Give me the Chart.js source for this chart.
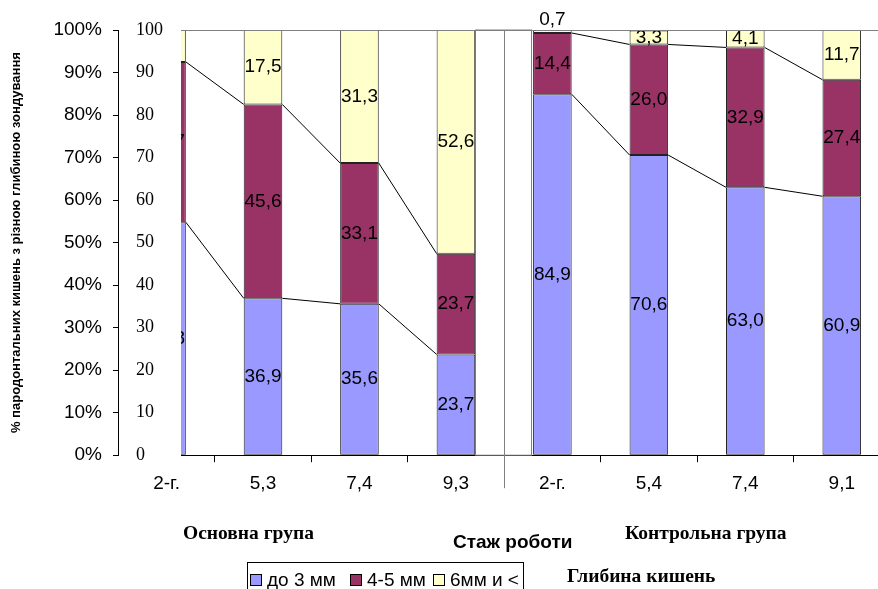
<!DOCTYPE html>
<html>
<head>
<meta charset="utf-8">
<script src="https://cdn.jsdelivr.net/npm/chart.js@4.4.1/dist/chart.umd.min.js"></script>
<style>
  html, body { margin: 0; padding: 0; overflow: hidden; background: #fff; }
  #wrap { position: relative; width: 890px; height: 589px; }
  .note { position: absolute; font: bold 19.5px "Liberation Serif", "Times New Roman", serif; line-height: 19.5px; white-space: nowrap; color: #000; }
  #xTitle { font-family: "Liberation Sans", Arial, sans-serif; font-size: 19px; line-height: 19px; }
  #legend { position: absolute; left: 247px; top: 562px; width: 277px; height: 36px; box-sizing: border-box;
            border: 1px solid #000; padding: 7px 0 0 2px; white-space: nowrap; overflow: hidden;
            font: 19px "Liberation Sans", Arial, sans-serif; line-height: 19px; color: #000; }
  #legend .item { display: inline-block; }
  #legend .box { display: inline-block; width: 10px; height: 10px; border: 1px solid #000; margin-right: 5px; }
</style>
</head>
<body>
<div id="wrap">
  <canvas id="chart"></canvas>
  <div class="note" style="left:183px; top:523px;">Основна група</div>
  <div class="note" id="xTitle" style="left:453px; top:532px;">Стаж роботи</div>
  <div class="note" style="left:625px; top:523px;">Контрольна група</div>
  <div class="note" style="left:567px; top:566px;">Глибина кишень</div>
  <div id="legend"></div>
</div>
<script>
// stazh roboty (years) for the main and the control group
const categories = ['2-г.', '5,3', '7,4', '9,3', '2-г.', '5,4', '7,4', '9,1'];
const groups = [0, 0, 0, 0, 1, 1, 1, 1];

const seriesNames = ['до 3 мм', '4-5 мм', '6мм и <'];
const seriesColors = ['#9999FF', '#993366', '#FFFFCC'];

// % of pockets by depth
const shallow = [54.8, 36.9, 35.6, 23.7, 84.9, 70.6, 63.0, 60.9];
const medium = [37.7, 45.6, 33.1, 23.7, 14.4, 26.0, 32.9, 27.4];
const deep = [7.5, 17.5, 31.3, 52.6, 0.7, 3.3, 4.1, 11.7];

const percentTicks = [0, 10, 20, 30, 40, 50, 60, 70, 80, 90, 100];

const sansFont = '"Liberation Sans", Arial, sans-serif';
const serifFont = '"Liberation Serif", "Times New Roman", serif';
Chart.defaults.font.family = sansFont;
Chart.defaults.color = '#000';

const fmt = v => v.toFixed(1).replace('.', ',');

// white separator between the two groups
const groupGap = {
  id: 'groupGap',
  beforeDatasetsDraw(chart) {
    const { ctx, chartArea, scales } = chart;
    const bars = chart.getDatasetMeta(0).data;
    ctx.save();
    ctx.strokeStyle = '#808080';
    ctx.lineWidth = 1;
    for (let i = 0; i < bars.length - 1; i++) {
      if (groups[i] === groups[i + 1]) continue;
      const left = Math.round(bars[i].x + bars[i].width / 2) + 0.5;
      const right = Math.round(bars[i + 1].x - bars[i + 1].width / 2) - 1.5;
      ctx.strokeRect(left, chartArea.top, right - left, chartArea.bottom - chartArea.top);
      const mid = Math.round(scales.x.getPixelForValue(i + 0.5)) + 0.5;
      ctx.beginPath();
      ctx.moveTo(mid, chartArea.top);
      ctx.lineTo(mid, chartArea.bottom + 33);
      ctx.stroke();
    }
    ctx.restore();
  }
};

// series lines joining the tops of the segments inside a group
const seriesLines = {
  id: 'seriesLines',
  afterDatasetsDraw(chart) {
    const ctx = chart.ctx;
    ctx.save();
    ctx.strokeStyle = '#000';
    ctx.lineWidth = 1;
    [0, 1].forEach(d => {
      const bars = chart.getDatasetMeta(d).data;
      for (let i = 0; i < bars.length - 1; i++) {
        if (groups[i] !== groups[i + 1]) continue;
        const a = bars[i];
        const b = bars[i + 1];
        ctx.beginPath();
        ctx.moveTo(a.x + a.width / 2, a.y);
        ctx.lineTo(b.x - b.width / 2, b.y);
        ctx.stroke();
      }
    });
    ctx.restore();
  }
};

const barLabels = {
  id: 'barLabels',
  afterDatasetsDraw(chart) {
    const { ctx, chartArea } = chart;
    ctx.save();
    ctx.beginPath();
    ctx.rect(chartArea.left, 0, chart.width - chartArea.left, chart.height);
    ctx.clip();
    ctx.font = '19px ' + sansFont;
    ctx.fillStyle = '#000';
    ctx.textAlign = 'center';
    ctx.textBaseline = 'middle';
    chart.data.datasets.forEach((ds, d) => {
      chart.getDatasetMeta(d).data.forEach((bar, i) => {
        const h = bar.base - bar.y;
        // too thin a segment: put its label above the bar
        const y = h < 10 ? bar.y - 10 : bar.y + h / 2;
        ctx.fillText(fmt(ds.data[i].y), bar.x, y);
      });
    });
    ctx.restore();
  }
};

const plotTopLine = {
  id: 'plotTopLine',
  afterDatasetsDraw(chart) {
    const { ctx, chartArea } = chart;
    ctx.save();
    ctx.strokeStyle = '#808080';
    ctx.lineWidth = 1;
    ctx.beginPath();
    ctx.moveTo(chartArea.left, Math.round(chartArea.top) + 0.5);
    ctx.lineTo(chartArea.right, Math.round(chartArea.top) + 0.5);
    ctx.stroke();
    ctx.restore();
  }
};

const makeSeries = (values, idx) => ({
  label: seriesNames[idx],
  data: values.map((v, i) => ({ x: i, y: v })),
  backgroundColor: seriesColors[idx],
  borderColor: '#222',
  borderWidth: 1,
  borderSkipped: false,
  barPercentage: 0.4,
  categoryPercentage: 1,
  clip: { left: 0, top: 2, right: 2, bottom: 2 }
});

new Chart(document.getElementById('chart'), {
  type: 'bar',
  data: {
    datasets: [makeSeries(shallow, 0), makeSeries(medium, 1), makeSeries(deep, 2)]
  },
  options: {
    responsive: true,
    maintainAspectRatio: false,
    animation: false,
    layout: { padding: { left: 0, top: 30, right: 0, bottom: 84 } },
    plugins: {
      legend: { display: false },
      tooltip: { enabled: false }
    },
    scales: {
      x: {
        type: 'linear',
        stacked: true,
        offset: false,
        min: 0.15,
        max: 7.5,
        bounds: 'data',
        afterBuildTicks: s => { s.ticks = categories.map((c, i) => ({ value: i })); },
        ticks: {
          autoSkip: false,
          maxRotation: 0,
          padding: 10,
          font: { size: 19 },
          callback: v => categories[v]
        },
        grid: { offset: true, drawOnChartArea: false, drawTicks: true, tickLength: 7, color: '#000' },
        border: { color: '#000' }
      },
      y: {
        position: 'left',
        stacked: true,
        min: 0,
        max: 100,
        weight: 1,
        afterBuildTicks: s => { s.ticks = percentTicks.map(v => ({ value: v })); },
        afterFit: s => { s.width = 118; },
        ticks: { padding: 11, font: { size: 19 }, callback: v => v + '%' },
        grid: { drawOnChartArea: false, tickLength: 5, color: '#000' },
        border: { color: '#000' },
        title: {
          display: true,
          text: '% пародонтальних кишень з різною глибиною зондування',
          font: { size: 13, weight: 'bold' },
          padding: { top: 9, bottom: 0 }
        }
      },
      y2: {
        position: 'left',
        min: 0,
        max: 100,
        weight: 0,
        afterBuildTicks: s => { s.ticks = percentTicks.map(v => ({ value: v })); },
        afterFit: s => { s.width = 63; },
        ticks: { mirror: true, padding: -45, font: { size: 18, family: serifFont } },
        grid: { display: false },
        border: { display: false }
      }
    }
  },
  plugins: [groupGap, seriesLines, barLabels, plotTopLine]
});

// legend (item widths match the slots of the original legend box)
const legendSlots = [100, 83, 88];
const legend = document.getElementById('legend');
seriesNames.forEach((name, i) => {
  const item = document.createElement('span');
  item.className = 'item';
  item.style.width = legendSlots[i] + 'px';
  const box = document.createElement('span');
  box.className = 'box';
  box.style.background = seriesColors[i];
  item.appendChild(box);
  item.appendChild(document.createTextNode(name));
  legend.appendChild(item);
});
</script>
</body>
</html>
